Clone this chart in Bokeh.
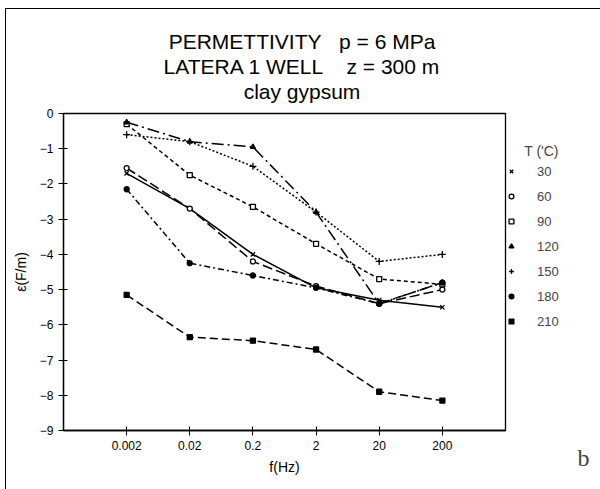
from bokeh.plotting import figure
from bokeh.models import (Legend, LegendItem, FixedTicker, Title, Label, InlineStyleSheet)
from bokeh.embed import file_html
from bokeh.resources import INLINE

freqs = [0.002, 0.02, 0.2, 2, 20, 200]
freq_labels = ["0.002", "0.02", "0.2", "2", "20", "200"]
temps = ["30", "60", "90", "120", "150", "180", "210"]

eps_30 = [-1.70, -2.70, -4.00, -4.95, -5.30, -5.50]
eps_60 = [-1.55, -2.70, -4.20, -4.90, -5.40, -5.00]
eps_90 = [-0.30, -1.75, -2.65, -3.70, -4.70, -4.85]
eps_120 = [-0.25, -0.80, -0.95, -2.80, -5.40, -4.80]
eps_150 = [-0.60, -0.80, -1.50, -2.80, -4.20, -4.00]
eps_180 = [-2.15, -4.25, -4.60, -4.95, -5.40, -4.80]
eps_210 = [-5.15, -6.35, -6.45, -6.70, -7.90, -8.15]

series = [eps_30, eps_60, eps_90, eps_120, eps_150, eps_180, eps_210]
dashes = ["solid", "10 4", "4 3", "12 4 2 4", "2 2", "6 3 2 3", "8 4"]
markers = ["x", "circle", "square", "triangle", "cross", "circle", "square"]
fills = [None, "white", "white", "black", None, "black", "black"]
sizes = [6, 5, 5, 5, 7, 5, 5]

FONT = "Liberation Sans"
NB = "\u00a0"

p = figure(frame_width=442, frame_height=317, x_axis_type="log", output_backend="svg",
           toolbar_location=None, x_range=(0.0002, 2000), y_range=(-9, 0),
           min_border_left=63, min_border_right=95, min_border_top=113,
           min_border_bottom=59)
p.xgrid.visible = False
p.ygrid.visible = False
p.outline_line_color = "black"
p.outline_line_width = 1.3

for ax in (p.xaxis[0], p.yaxis[0]):
    ax.axis_line_width = 1.3
    ax.major_tick_in = 4
    ax.major_tick_out = 5
    ax.minor_tick_line_color = None
    ax.major_label_text_font = FONT
    ax.major_label_text_font_size = "12px"
    ax.major_label_text_color = "black"
    ax.axis_label_text_font = FONT
    ax.axis_label_text_font_style = "normal"
    ax.axis_label_text_font_size = "14px"
    ax.axis_label_text_color = "black"

p.xaxis.ticker = FixedTicker(ticks=freqs)
p.xaxis.major_label_overrides = {f: l for f, l in zip(freqs, freq_labels)}
p.xaxis.axis_label = "f(Hz)"
p.xaxis.axis_label_standoff = 6

yt = list(range(-9, 1))
p.yaxis.ticker = FixedTicker(ticks=yt)
p.yaxis.major_label_overrides = {t: (str(t).replace("-", "\u2212")) for t in yt}
p.yaxis.axis_label = "\u03b5(F/m)"
p.yaxis.axis_label_standoff = 8

items = []
for vals, d, m, f, s, t in zip(series, dashes, markers, fills, sizes, temps):
    p.line(freqs, vals, line_color="black", line_width=1.5, line_dash=d)
    r = p.scatter(freqs, vals, marker=m, size=s, line_color="black",
                  fill_color=f, line_width=1.3)
    items.append(LegendItem(label=t, renderers=[r]))

legend = Legend(items=items, location=(0, 99), title="     T ('C)",
                border_line_color=None, background_fill_alpha=0,
                glyph_width=12, glyph_height=20, label_height=20,
                spacing=5, label_standoff=20, padding=0, margin=0,
                label_text_font=FONT, label_text_font_size="13px",
                title_text_font=FONT, title_text_font_size="14px",
                title_text_font_style="normal", title_standoff=2)
p.add_layout(legend, "right")

p.add_layout(Label(x=583, y=457, x_units="canvas", y_units="canvas", text="b",
                   text_align="center", text_baseline="middle",
                   text_font="Liberation Serif", text_font_size="24px"), "right")

p.title.text = ""
p.title.standoff = 0
p.title.text_font_size = "4px"
# spacer between frame and the title block
p.add_layout(Title(text=NB, text_font_size="4px", standoff=4), "above")
for txt in ["clay gypsum", "LATERA 1 WELL" + NB * 4 + "z = 300 m",
            "PERMETTIVITY" + NB * 3 + "p = 6 MPa"]:
    p.add_layout(Title(text=NB * 6 + txt, align="center", text_font=FONT,
                       text_font_size="21px", text_font_style="normal",
                       text_color="black", standoff=0), "above")

p.stylesheets = [InlineStyleSheet(css=":host::after { content: ''; position: absolute; "
                                  "left: 5px; top: 8px; right: 3px; bottom: -5px; "
                                  "border: 1.3px solid black; pointer-events: none; }")]

open("out.html", "w").write(file_html(p, INLINE))
